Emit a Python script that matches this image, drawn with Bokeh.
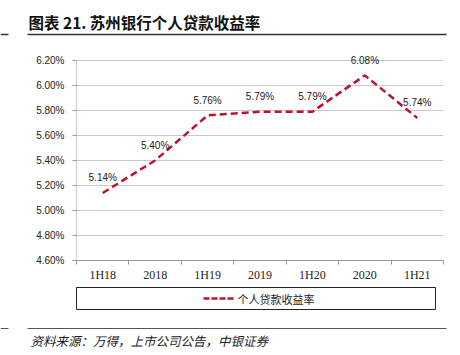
from bokeh.plotting import figure
from bokeh.layouts import column
from bokeh.models import (ColumnDataSource, FixedTicker, PrintfTickFormatter, Range1d)
from bokeh.core.properties import value
from bokeh.embed import file_html
from bokeh.resources import INLINE

categories = ["1H18", "2018", "1H19", "2019", "1H20", "2020", "1H21"]
yields = [5.14, 5.40, 5.76, 5.79, 5.79, 6.08, 5.74]
y_ticks = [4.6, 4.8, 5.0, 5.2, 5.4, 5.6, 5.8, 6.0, 6.2]
series_name = "个人贷款收益率"
title_text = "图表 21. 苏州银行个人贷款收益率"
source_text = "资料来源：万得，上市公司公告，中银证券"

RED = "#BE1230"
W = 460
CJK = "Noto Sans CJK SC"


def blank(height):
    f = figure(width=W, height=height, output_backend="svg", toolbar_location=None,
               x_range=Range1d(0, W), y_range=Range1d(height, 0),
               x_axis_location=None, y_axis_location=None, min_border=0,
               frame_align=False)
    f.min_border_left = f.min_border_right = f.min_border_top = f.min_border_bottom = 0
    f.outline_line_color = None
    f.xgrid.visible = False
    f.ygrid.visible = False
    return f


# ---------- top: title ----------
top = blank(52)
top.text(x=[28], y=[21], text=[title_text], text_font=value(CJK), text_font_style="bold",
         text_font_size="15.5px", text_baseline="middle", text_color="#111111")
top.segment(x0=[0, 27], y0=[34, 34], x1=[8, 446], y1=[34, 34],
            line_color="#333333", line_width=1.5)

# ---------- main chart ----------
xs = [i + 0.5 for i in range(len(categories))]
src = ColumnDataSource(dict(x=xs, y=yields, lab=["%.2f%%" % v for v in yields]))

frame_px = 211.0   # frame height in px (52 -> 263)
grid_px = 203.0    # pixels between lowest and highest tick
y_lo, y_hi = y_ticks[0], y_ticks[-1]
y_end = y_lo + (y_hi - y_lo) * frame_px / grid_px

p = figure(width=W, height=232, output_backend="svg", toolbar_location=None,
           x_range=Range1d(0, len(categories)), y_range=Range1d(y_lo, y_end),
           min_border_left=76, min_border_right=17, min_border_top=0, min_border_bottom=21,
           frame_align=False)
p.outline_line_color = None

p.xgrid.grid_line_color = None
p.ygrid.grid_line_color = "#C8C8C8"
p.ygrid.grid_line_width = 1

p.yaxis.ticker = FixedTicker(ticks=y_ticks)
p.yaxis.formatter = PrintfTickFormatter(format="%.2f%%")
p.yaxis.axis_line_color = None
p.yaxis.major_tick_line_color = "#999999"
p.yaxis.major_tick_out = 4
p.yaxis.major_tick_in = 0
p.yaxis.minor_tick_line_color = None
p.yaxis.major_label_text_font = "Liberation Sans"
p.yaxis.major_label_text_font_size = "10px"
p.yaxis.major_label_text_color = "#222222"
p.yaxis.major_label_standoff = 8
# y axis line only spanning the tick range
p.segment(x0=[0], y0=[y_lo], x1=[0], y1=[y_hi], line_color="#999999", line_width=1)

p.xaxis.ticker = FixedTicker(ticks=xs, minor_ticks=list(range(len(categories) + 1)))
p.xaxis.major_label_overrides = {x: c for x, c in zip(xs, categories)}
p.xaxis.axis_line_color = "#999999"
p.xaxis.major_tick_line_color = None
p.xaxis.major_tick_out = 0
p.xaxis.major_tick_in = 0
p.xaxis.minor_tick_line_color = "#999999"
p.xaxis.minor_tick_out = 4
p.xaxis.minor_tick_in = 0
p.xaxis.major_label_text_font = "Liberation Serif"
p.xaxis.major_label_text_font_size = "12px"
p.xaxis.major_label_text_color = "#222222"
p.xaxis.major_label_standoff = 3

p.line("x", "y", source=src, line_color=RED, line_width=2.5, line_dash="7 4")
p.text("x", "y", text="lab", source=src, y_offset=-15, text_align="center",
       text_baseline="middle", text_font=value("Liberation Sans"),
       text_font_size="10px", text_color="#222222")

# ---------- bottom: legend + source ----------
bot = blank(71)  # page y 284 -> 355
bot.quad(left=[76], right=[435], top=[3], bottom=[25], fill_color=None,
         line_color="#222222", line_width=1)
# legend entry
bot.segment(x0=[203], y0=[14], x1=[234], y1=[14], line_color=RED, line_width=2.5,
            line_dash="6 2")
bot.text(x=[237], y=[14], text=[series_name], text_font=value(CJK),
         text_font_size="11px", text_baseline="middle", text_color="#222222")
# source
bot.segment(x0=[0, 27], y0=[44, 44], x1=[8, 446], y1=[44, 44],
            line_color="#555555", line_width=1.2)
bot.text(x=[30], y=[56], text=[source_text], text_font=value(CJK), text_font_style="italic",
         text_font_size="12.5px", text_baseline="middle", text_color="#222222")

layout = column(top, p, bot, spacing=0)
open("out.html", "w").write(file_html(layout, INLINE))
